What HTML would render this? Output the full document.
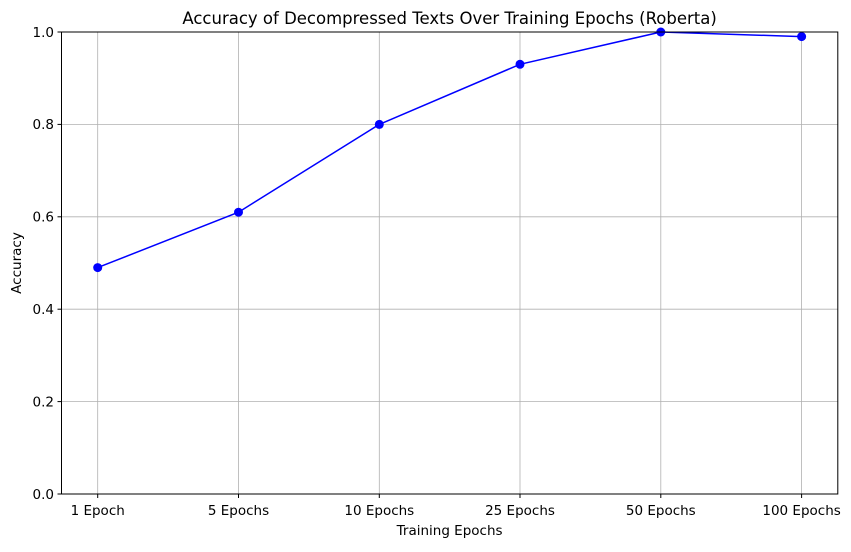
<!DOCTYPE html><html><head><style>body{margin:0;background:#fff}</style></head><body>
<svg width="851" height="547" xmlns="http://www.w3.org/2000/svg" font-family="DejaVu Sans, sans-serif">
<rect width="851" height="547" fill="#fff"/>
<g stroke="#b0b0b0" stroke-width="0.8">
<line x1="97.7" y1="32" x2="97.7" y2="494"/><line x1="238.5" y1="32" x2="238.5" y2="494"/><line x1="379.3" y1="32" x2="379.3" y2="494"/><line x1="520" y1="32" x2="520" y2="494"/><line x1="660.8" y1="32" x2="660.8" y2="494"/><line x1="801.6" y1="32" x2="801.6" y2="494"/>
<line x1="61.5" y1="401.6" x2="837.8" y2="401.6"/><line x1="61.5" y1="309.2" x2="837.8" y2="309.2"/><line x1="61.5" y1="216.8" x2="837.8" y2="216.8"/><line x1="61.5" y1="124.4" x2="837.8" y2="124.4"/>
</g>
<polyline fill="none" stroke="#0000ff" stroke-width="1.5" points="97.7,267.6 238.5,212.2 379.3,124.4 520,64.3 660.8,32 801.6,36.6"/>
<g fill="#0000ff"><circle cx="97.7" cy="267.6" r="4.5"/><circle cx="238.5" cy="212.2" r="4.5"/><circle cx="379.3" cy="124.4" r="4.5"/><circle cx="520" cy="64.3" r="4.5"/><circle cx="660.8" cy="32" r="4.5"/><circle cx="801.6" cy="36.6" r="4.5"/></g>
<rect x="61.5" y="32" width="776.3" height="462" fill="none" stroke="#000" stroke-width="1"/>
<g stroke="#000"><line x1="97.7" y1="494" x2="97.7" y2="498"/><line x1="238.5" y1="494" x2="238.5" y2="498"/><line x1="379.3" y1="494" x2="379.3" y2="498"/><line x1="520" y1="494" x2="520" y2="498"/><line x1="660.8" y1="494" x2="660.8" y2="498"/><line x1="801.6" y1="494" x2="801.6" y2="498"/>
<line x1="57.5" y1="494" x2="61.5" y2="494"/><line x1="57.5" y1="401.6" x2="61.5" y2="401.6"/><line x1="57.5" y1="309.2" x2="61.5" y2="309.2"/><line x1="57.5" y1="216.8" x2="61.5" y2="216.8"/><line x1="57.5" y1="124.4" x2="61.5" y2="124.4"/><line x1="57.5" y1="32" x2="61.5" y2="32"/></g>
<g font-size="13.5" text-anchor="middle" fill="#000"><text x="97.7" y="515">1 Epoch</text><text x="238.5" y="515">5 Epochs</text><text x="379.3" y="515">10 Epochs</text><text x="520" y="515">25 Epochs</text><text x="660.8" y="515">50 Epochs</text><text x="801.6" y="515">100 Epochs</text>
<text x="449.6" y="535">Training Epochs</text></g>
<g font-size="13.5" text-anchor="end"><text x="54" y="499">0.0</text><text x="54" y="406.5">0.2</text><text x="54" y="314">0.4</text><text x="54" y="221.5">0.6</text><text x="54" y="129">0.8</text><text x="54" y="37">1.0</text></g>
<text transform="translate(21,263) rotate(-90)" font-size="13.5" text-anchor="middle">Accuracy</text>
<text x="449.6" y="24" font-size="16.5" text-anchor="middle">Accuracy of Decompressed Texts Over Training Epochs (Roberta)</text>
</svg></body></html>
